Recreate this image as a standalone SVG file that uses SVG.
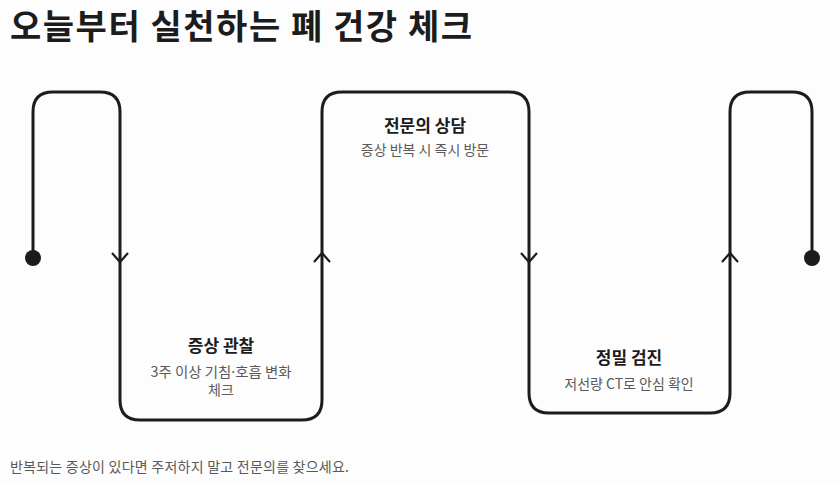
<svg xmlns="http://www.w3.org/2000/svg" width="839" height="484" viewBox="0 0 839 484">
<style>
.title{font-family:"Noto Sans CJK KR","Noto Sans",sans-serif;font-weight:700;font-size:34px;fill:#1c1c1c}
.h{font-family:"Noto Sans CJK KR","Noto Sans",sans-serif;font-weight:700;font-size:17px;fill:#1c1c1c;text-anchor:middle}
.s{font-family:"Noto Sans CJK KR","Noto Sans",sans-serif;font-size:14px;fill:#5a5a5a;text-anchor:middle}
.f{font-family:"Noto Sans CJK KR","Noto Sans",sans-serif;font-size:14px;fill:#5a5a5a}
.ln{fill:none;stroke:#1c1c1c;stroke-width:3;stroke-linejoin:round}
.ch{fill:none;stroke:#1c1c1c;stroke-width:2.2;stroke-linecap:butt}
</style>
<rect width="839" height="484" fill="#fdfdfd"/>
<text class="title" x="10" y="39" textLength="462" lengthAdjust="spacing">오늘부터 실천하는 폐 건강 체크</text>
<g id="connectors">
<path class="ln" d="M33 258 V112 Q33 92 53 92 H100 Q120 92 120 112 V400 Q120 420 140 420 H302 Q322 420 322 400 V112 Q322 92 342 92 H509 Q529 92 529 112 V393 Q529 413 549 413 H710 Q730 413 730 393 V112 Q730 92 750 92 H792 Q812 92 812 112 V258"/>
<circle cx="33" cy="258" r="8" fill="#1c1c1c"/>
<circle cx="812" cy="258" r="8" fill="#1c1c1c"/>
<path class="ch" d="M112 253 L120 262 L128 253"/>
<path class="ch" d="M314 262 L322 253 L330 262"/>
<path class="ch" d="M521 253 L529 262 L537 253"/>
<path class="ch" d="M722 262 L730 253 L738 262"/>
</g>
<g id="node-observe">
<text class="h" x="221" y="352">증상 관찰</text>
<text class="s" x="221" y="377" textLength="141" lengthAdjust="spacingAndGlyphs">3주 이상 기침<tspan font-family="Noto Sans">·</tspan>호흡 변화</text>
<text class="s" x="221" y="395">체크</text>
</g>
<g id="node-consult">
<text class="h" x="425" y="132">전문의 상담</text>
<text class="s" x="425" y="155">증상 반복 시 즉시 방문</text>
</g>
<g id="node-exam">
<text class="h" x="629" y="364">정밀 검진</text>
<text class="s" x="629" y="389">저선량 CT로 안심 확인</text>
</g>
<text class="f" x="10" y="472" textLength="339" lengthAdjust="spacing">반복되는 증상이 있다면 주저하지 말고 전문의를 찾으세요.</text>
</svg>
